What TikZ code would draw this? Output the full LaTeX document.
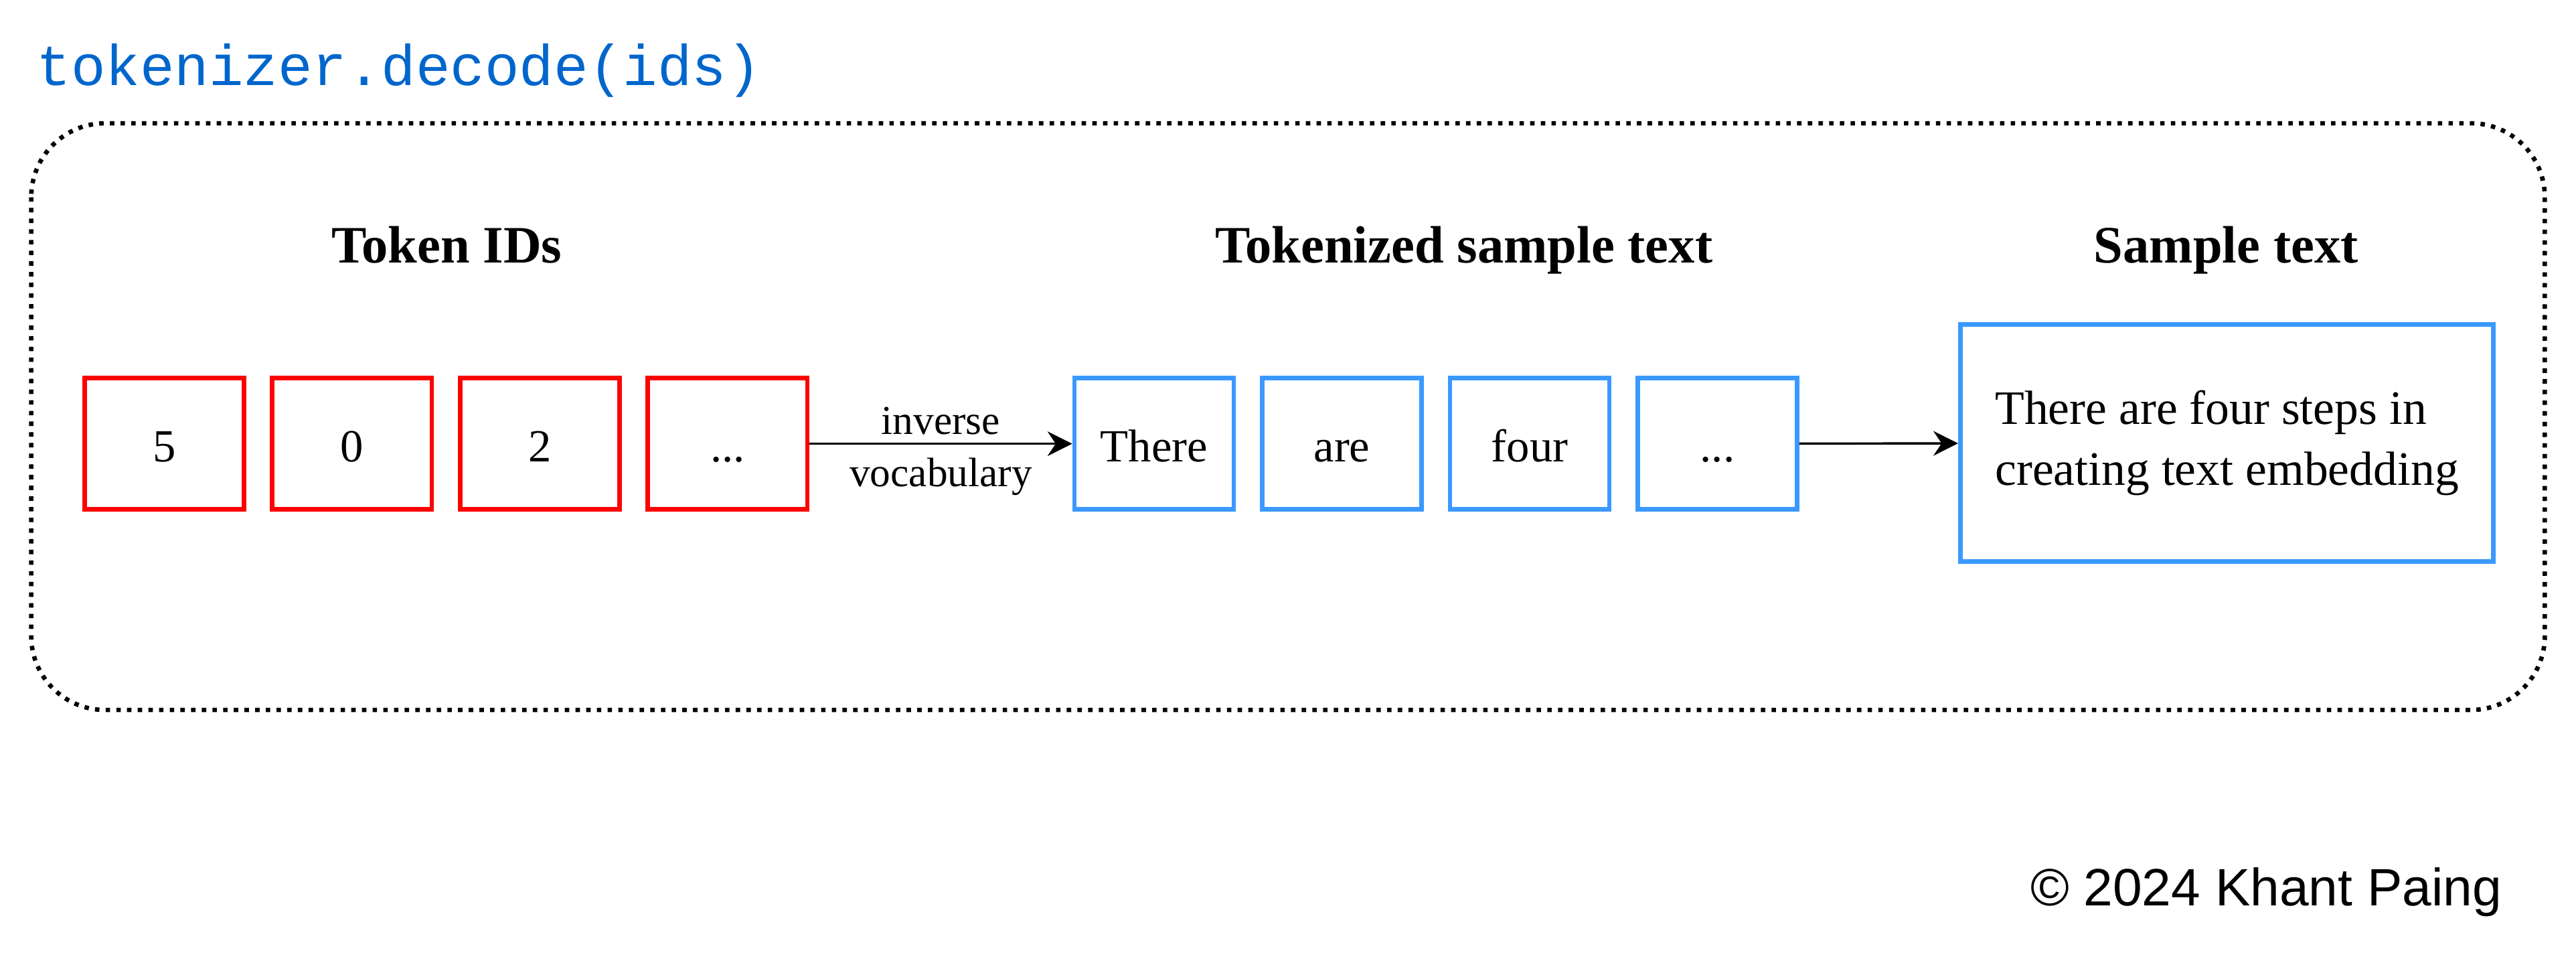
\documentclass[tikz,border=0pt]{standalone}
\usepackage{fontspec}
\setmainfont{Liberation Serif}
\setmonofont{Liberation Mono}
\newfontfamily\signfont{Liberation Sans}
\usetikzlibrary{arrows.meta,positioning}
\definecolor{idred}{RGB}{255,0,0}
\definecolor{tokblue}{RGB}{58,153,255}
\definecolor{codeblue}{RGB}{0,102,204}
\tikzset {
  >={Stealth[length=15pt,width=15pt,inset=5pt]},
  every node/.style={font=\fontsize{28}{36}\selectfont},
  idbox/.style={draw=idred,line width=2.8pt,minimum width=97pt,minimum height=80pt,inner sep=0pt,text height=22pt,text depth=0pt},
  tokbox/.style={draw=tokblue,line width=2.8pt,minimum width=97pt,minimum height=80pt,inner sep=0pt,text height=22pt,text depth=0pt},
  header/.style={font=\fontsize{32}{38}\selectfont\bfseries,anchor=base},
  label/.style={font=\fontsize{25}{30}\selectfont,inner sep=0pt},
}

\begin{document}
\begin{tikzpicture}[x=1pt,y=-1pt]
  \useasboundingbox (0,0) rectangle (1568,587);

  \node (title) at (22,52)[anchor=base west,font=\fontsize{35}{40}\selectfont\ttfamily,text=codeblue,inner sep=0pt]{tokenizer.decode(ids)};
  \draw[line width=2.7pt,dash pattern=on 2.7pt off 3.8pt,rounded corners=45pt] (19,75) rectangle (1549,432);

  \node (hids) at (272,160)[header]{Token IDs};
  \node (htok) at (891,160)[header]{Tokenized sample text};
  \node (htext) at (1355,160)[header]{Sample text};

  \node (r1) at (100,270)[idbox]{5};
  \node (r2) [idbox,right=14.5pt of r1]{0};
  \node (r3) [idbox,right=14.5pt of r2]{2};
  \node (r4) [idbox,right=14.5pt of r3]{...};

  \node (b1) at (702.5,270)[tokbox]{There};
  \node (b2) [tokbox,right=14.5pt of b1]{are};
  \node (b3) [tokbox,right=14.5pt of b2]{four};
  \node (b4) [tokbox,right=14.5pt of b3]{...};

  \node (sample) at (1355.5,269.5)[tokbox,minimum width=324.5pt,minimum height=144.5pt,text height=,text depth=,align=left,font=\fontsize{29.2}{37}\selectfont]{There are four steps in\\creating text embedding};

  \draw[->,line width=1.4pt] (r4) -- (b1)
    node[midway,above=5pt,label]{inverse}
    node[midway,below=8pt,label]{vocabulary};
  \draw[->,line width=1.4pt] (b4) -- (sample);

  \node (sign) at (1523,551)[anchor=base east,inner sep=0pt,font=\fontsize{32}{38}\selectfont\signfont]{© 2024 Khant Paing};
\end{tikzpicture}
\end{document}
